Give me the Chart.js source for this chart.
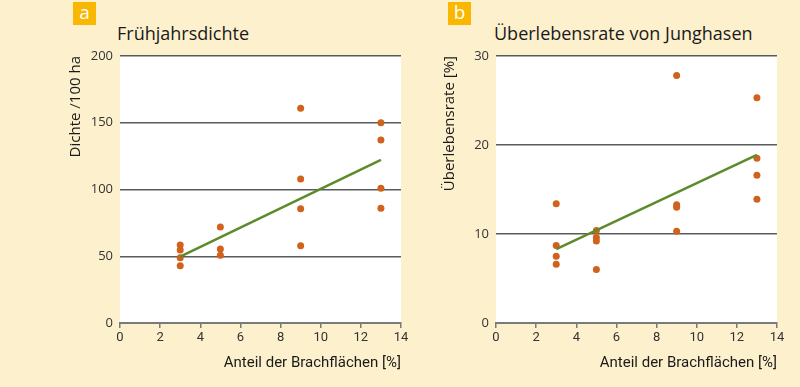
<!DOCTYPE html>
<html>
<head>
<meta charset="utf-8">
<script src="https://cdn.jsdelivr.net/npm/chart.js@4"></script>
<style>
  html, body { margin: 0; padding: 0; }
  body { width: 800px; height: 387px; background: #fdf0cd; position: relative; overflow: hidden; font-family: "Open Sans", sans-serif; }
  .box { position: absolute; top: 2px; width: 23px; height: 23px; background: #f9b700; color: #fff; font-size: 19px; line-height: 21px; text-align: center; font-family: "Open Sans", sans-serif; }
  .titel { position: absolute; top: 21px; font-size: 18px; font-weight: 500; color: #1a1a1a; white-space: nowrap; font-family: "Open Sans", sans-serif; }
  canvas { position: absolute; top: 0; }
</style>
</head>
<body>
<div class="box" style="left:73px">a</div>
<div class="titel" style="left:117px">Frühjahrsdichte</div>
<div class="box" style="left:448px">b</div>
<div class="titel" style="left:494px">Überlebensrate von Junghasen</div>
<canvas id="chartA" width="430" height="387" style="left:0;width:430px;height:387px"></canvas>
<canvas id="chartB" width="370" height="387" style="left:430px;width:370px;height:387px"></canvas>
<script>
document.addEventListener("DOMContentLoaded", function () {
  // Daten: Anteil der Brachflächen [%] und Messwerte
  const anteilA = [3, 3, 3, 3, 5, 5, 5, 9, 9, 9, 9, 13, 13, 13, 13];
  const dichte = [58.4, 54.7, 48.9, 42.9, 71.9, 55.4, 50.7, 160.8, 107.9, 85.6, 57.9, 150, 137.1, 100.9, 85.9];
  const trendA_x = [3, 13];
  const trendA_y = [49.7, 122.1];

  const anteilB = [3, 3, 3, 3, 5, 5, 5, 5, 9, 9, 9, 9, 13, 13, 13, 13];
  const ueberleben = [13.4, 8.7, 7.5, 6.6, 10.4, 9.6, 9.2, 6.0, 27.8, 13.3, 13.0, 10.3, 25.3, 18.5, 16.6, 13.9];
  const trendB_x = [3, 13];
  const trendB_y = [8.3, 18.9];

  const xTicks = [0, 2, 4, 6, 8, 10, 12, 14];

  // Weißer Hintergrund für die Zeichenfläche
  const whiteArea = {
    id: "whiteArea",
    beforeDraw(chart) {
      const a = chart.chartArea;
      chart.ctx.save();
      chart.ctx.fillStyle = "#ffffff";
      chart.ctx.fillRect(a.left, a.top, a.right - a.left, a.bottom - a.top);
      chart.ctx.restore();
    }
  };

  function toPoints(xs, ys) {
    return xs.map((x, i) => ({ x: x, y: ys[i] }));
  }

  function makeChart(id, xs, ys, tx, ty, yMax, yStep, yTitle, pad, yWidth) {
    const ctx = document.getElementById(id).getContext("2d");
    return new Chart(ctx, {
      type: "scatter",
      data: {
        datasets: [
          {
            type: "line",
            data: toPoints(tx, ty),
            borderColor: "#5d8b2c",
            borderWidth: 2.5,
            pointRadius: 0,
            fill: false,
            order: 0
          },
          {
            data: toPoints(xs, ys),
            backgroundColor: "#d0621e",
            borderWidth: 0,
            pointRadius: 3.5,
            order: 1
          }
        ]
      },
      options: {
        responsive: false,
        animation: false,
        layout: { padding: pad },
        plugins: { legend: { display: false }, tooltip: { enabled: false } },
        scales: {
          x: {
            type: "linear",
            min: 0,
            max: 14,
            afterBuildTicks: s => { s.ticks = xTicks.map(v => ({ value: v })); },
            afterFit: s => { s.height = 52; },
            grid: { drawOnChartArea: false, drawTicks: true, tickLength: 5, color: "#7a7a7a", lineWidth: 1.5 },
            border: { display: true, color: "#7a7a7a", width: 2 },
            ticks: { padding: 2, color: "#333", font: { family: "Roboto", size: 13 }, maxRotation: 0 },
            title: { display: true, text: "Anteil der Brachflächen [%]", align: "end", color: "#1a1a1a",
              font: { family: "Roboto", size: 15 }, padding: { top: 0, bottom: 3 } }
          },
          y: {
            min: 0,
            max: yMax,
            ticks: { stepSize: yStep, padding: 7, color: "#333", font: { family: "Open Sans", size: 13 } },
            afterFit: s => { s.width = yWidth; },
            grid: { drawTicks: false, color: "#5a5a5a", lineWidth: 1.5 },
            border: { display: false },
            title: { display: true, text: yTitle, align: "end", color: "#1a1a1a",
              font: { family: "Open Sans", size: 15 }, padding: { top: 3, bottom: 0 } }
          }
        }
      },
      plugins: [whiteArea]
    });
  }

  makeChart("chartA", anteilA, dichte, trendA_x, trendA_y, 200, 50, "Dichte /100 ha",
    { left: 64, right: 29, top: 56, bottom: 12 }, 56);
  makeChart("chartB", anteilB, ueberleben, trendB_x, trendB_y, 30, 10, "Überlebensrate [%]",
    { left: 8, right: 23, top: 56, bottom: 12 }, 58);
});
</script>
</body>
</html>
